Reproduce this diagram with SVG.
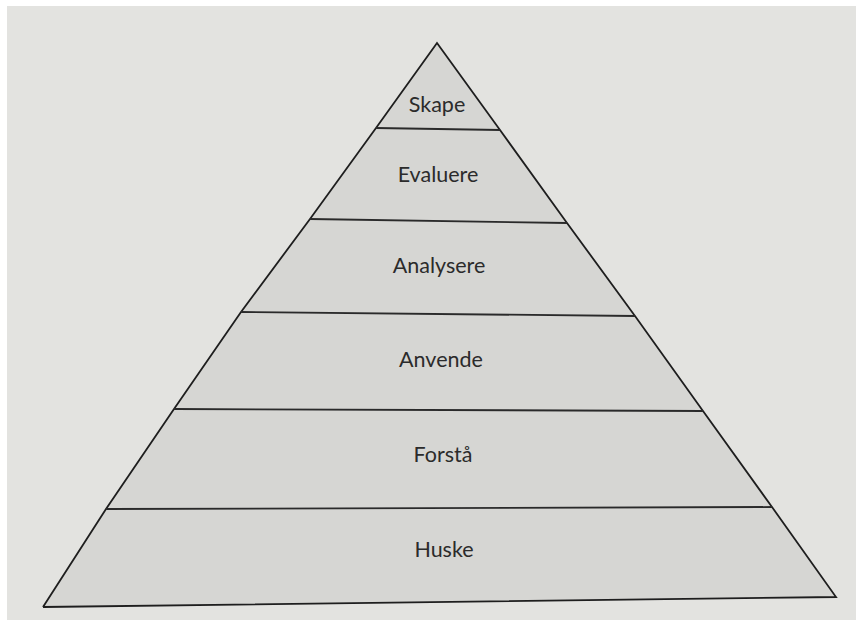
<svg xmlns="http://www.w3.org/2000/svg" width="860" height="620" viewBox="0 0 860 620">
  <style>
    .band { fill: #d6d6d3; stroke: none; }
    .edge { fill: none; stroke: #1e1e1e; stroke-width: 1.8; stroke-linejoin: miter; }
    .rule { fill: none; stroke: #2a2a2a; stroke-width: 1.8; }
    .label { font-family: Lato, "Noto Sans", "Liberation Sans", sans-serif; font-size: 21.5px; fill: #2b2b2b; text-anchor: middle; }
  </style>
  <!-- paper -->
  <rect x="0" y="0" width="860" height="620" fill="#ffffff"/>
  <rect x="7" y="6" width="849" height="614" fill="#e3e3e0"/>

  <!-- levels, top to bottom -->
  <g id="skape">
    <polygon class="band" points="437,43 376,128 500,130"/>
    <text class="label" x="437" y="112">Skape</text>
  </g>
  <g id="evaluere">
    <polygon class="band" points="376,128 500,130 567,223 310,219"/>
    <text class="label" x="438" y="182">Evaluere</text>
  </g>
  <g id="analysere">
    <polygon class="band" points="310,219 567,223 635,316 241,312"/>
    <text class="label" x="439" y="273">Analysere</text>
  </g>
  <g id="anvende">
    <polygon class="band" points="241,312 635,316 703,411 174,409"/>
    <text class="label" x="441" y="367">Anvende</text>
  </g>
  <g id="forsta">
    <polygon class="band" points="174,409 703,411 772,507 106,509"/>
    <text class="label" x="443" y="462">Forstå</text>
  </g>
  <g id="huske">
    <polygon class="band" points="106,509 772,507 836,597 43,607"/>
    <text class="label" x="444" y="557">Huske</text>
  </g>

  <!-- outline and dividing rules -->
  <g id="connectors">
    <polyline class="edge" points="43,607 106,509 174,409 241,312 310,219 376,128 437,43 500,130 567,223 635,316 703,411 772,507 836,597 43,607"/>
    <line class="rule" x1="376" y1="128" x2="500" y2="130"/>
    <line class="rule" x1="310" y1="219" x2="567" y2="223"/>
    <line class="rule" x1="241" y1="312" x2="635" y2="316"/>
    <line class="rule" x1="174" y1="409" x2="703" y2="411"/>
    <line class="rule" x1="106" y1="509" x2="772" y2="507"/>
  </g>
</svg>
